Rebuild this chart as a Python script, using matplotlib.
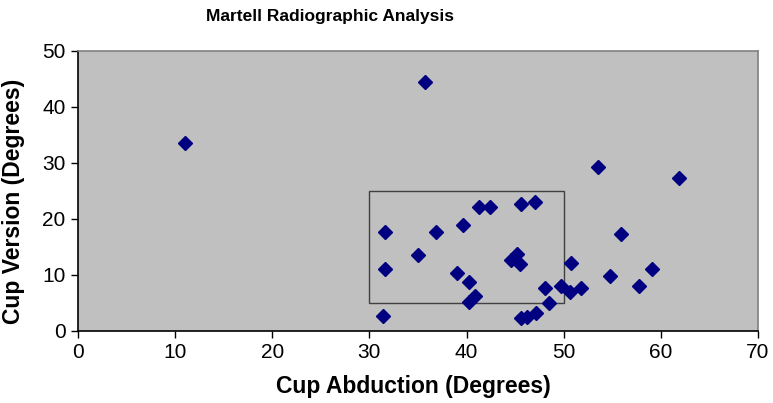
import matplotlib
matplotlib.use("Agg")
import matplotlib.pyplot as plt
from matplotlib.patches import Rectangle

plt.rcParams['font.family'] = ['Liberation Sans', 'DejaVu Sans']

# cup abduction (x) and cup version (y), degrees
abduction = [11.0, 35.7, 53.5, 61.9, 31.6, 36.9, 39.6, 41.3, 42.4, 45.6, 47.0,
             35.0, 31.6, 45.2, 44.9, 44.6, 45.5, 39.0, 40.3, 50.8, 40.9, 40.3,
             48.1, 49.7, 50.6, 51.8, 48.5, 31.4, 45.6, 46.2, 47.1, 55.9, 54.8,
             59.1, 57.8]
version = [33.5, 44.4, 29.3, 27.4, 17.7, 17.7, 18.9, 22.2, 22.2, 22.7, 23.0,
           13.6, 11.0, 13.8, 13.0, 12.6, 12.0, 10.3, 8.7, 12.1, 6.2, 5.1,
           7.6, 8.1, 6.9, 7.6, 5.0, 2.7, 2.3, 2.5, 3.3, 17.3, 9.8,
           11.0, 8.0]

# safe zone box (abduction 30-50, version 5-25)
zone_x = [30, 50]
zone_y = [5, 25]

xticks = list(range(0, 71, 10))
yticks = list(range(0, 51, 10))

W, H = 773, 403
fig = plt.figure(figsize=(W / 100, H / 100), dpi=100)
ax = fig.add_axes([78 / W, 1 - 331 / H, (758 - 78) / W, (331 - 51) / H])
ax.set_facecolor('#c0c0c0')

ax.add_patch(Rectangle((zone_x[0], zone_y[0]), zone_x[1] - zone_x[0], zone_y[1] - zone_y[0],
                       fill=False, edgecolor='#404040', linewidth=1.0, zorder=2))
ax.plot(abduction, version, linestyle='none', marker='D', markersize=7,
        color='#000080', zorder=3)

ax.set_xlim(0, 70)
ax.set_ylim(0, 50)
ax.set_xticks(xticks)
ax.set_yticks(yticks)
ax.tick_params(direction='out', length=5, width=1, labelsize=15, colors='black', pad=4)

for s in ['top', 'right']:
    ax.spines[s].set_color('#808080')
for s in ['left', 'bottom']:
    ax.spines[s].set_color('black')
for s in ax.spines.values():
    s.set_linewidth(1.2)

fig.text(330 / W, 1 - 17 / H, 'Martell Radiographic Analysis', ha='center', va='center',
         fontsize=12.5, fontweight='bold')
fig.text(413 / W, 1 - 386 / H, 'Cup Abduction (Degrees)', ha='center', va='center',
         fontsize=16.5, fontweight='bold')
fig.text(14 / W, 1 - 201 / H, 'Cup Version (Degrees)', ha='center', va='center',
         rotation=90, fontsize=16.5, fontweight='bold')

fig.savefig('out.png', dpi=100)
